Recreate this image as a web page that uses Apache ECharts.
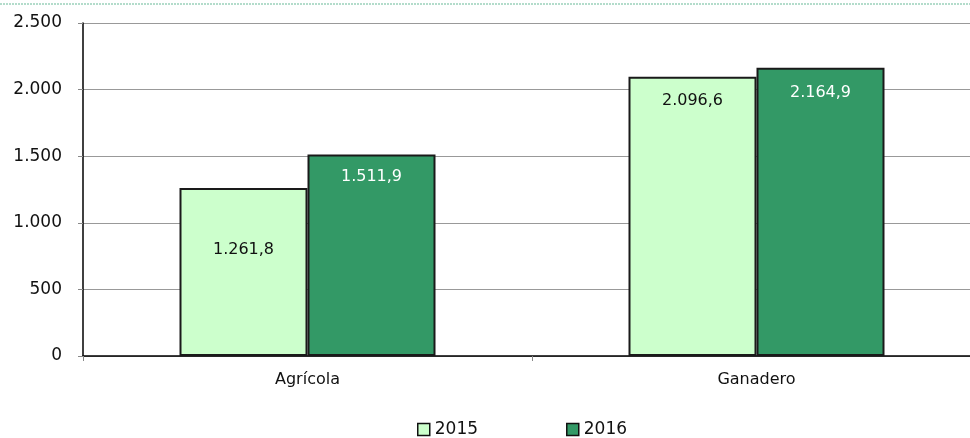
<!DOCTYPE html>
<html>
<head>
<meta charset="utf-8">
<script src="https://cdn.jsdelivr.net/npm/echarts@6/dist/echarts.min.js"></script>
<style>
  html, body { margin: 0; padding: 0; background: #fff; }
  #chart { width: 970px; height: 438px; }
</style>
</head>
<body>
<div id="chart"></div>
<script>
// datos
var categorias = ['Agrícola', 'Ganadero'];
var serie2015 = [1261.8, 2096.6];
var serie2016 = [1511.9, 2164.9];
var anios = ['2015', '2016'];

function fmt(v) {
    var s = v.toFixed(1).split('.');
    var ent = s[0].replace(/\B(?=(\d{3})+(?!\d))/g, '.');
    return ent + ',' + s[1];
}

var fuente = 'DejaVu Sans';
// distancia de cada etiqueta al borde superior de su barra
var dist2015 = [54, 16];
var dist2016 = [14, 17];

var myChart = echarts.init(document.getElementById('chart'));
myChart.setOption({
    animation: false,
    textStyle: { fontFamily: fuente },
    grid: { left: 83, width: 898, top: 23, height: 333, containLabel: false, outerBoundsMode: 'none' },
    graphic: [{
        type: 'line',
        shape: { x1: 0, y1: 4, x2: 970, y2: 4 },
        style: { stroke: '#b3dccb', lineWidth: 2, lineDash: [2, 1] }
    }],
    legend: {
        top: 416,
        left: 412,
        itemGap: 88,
        itemWidth: 12,
        itemHeight: 12,
        icon: 'rect',
        itemStyle: { borderColor: '#111', borderWidth: 1.5 },
        textStyle: { fontFamily: fuente, fontSize: 17, color: '#111' },
        data: anios
    },
    xAxis: {
        type: 'category',
        data: categorias,
        axisLine: { lineStyle: { color: '#000', width: 1.5 } },
        axisTick: { show: true, length: 5, lineStyle: { color: '#888' } },
        axisLabel: { fontFamily: fuente, fontSize: 16, color: '#111', margin: 16 }
    },
    yAxis: {
        type: 'value',
        min: 0,
        max: 2500,
        interval: 500,
        axisLine: { show: true, lineStyle: { color: '#000', width: 1.5 } },
        axisTick: { show: true, length: 5, lineStyle: { color: '#888' } },
        splitLine: { lineStyle: { color: '#999', width: 1 } },
        axisLabel: {
            fontFamily: fuente, fontSize: 17, color: '#111', margin: 21,
            formatter: function (v) { return v === 0 ? '0' : fmt(v).replace(/,0$/, ''); }
        }
    },
    series: [{
        name: anios[0],
        type: 'bar',
        barWidth: 128,
        barGap: '0%',
        itemStyle: { color: '#ccffcc', borderColor: '#1a1a1a', borderWidth: 2 },
        label: {
            show: true, position: 'insideTop',
            fontFamily: fuente, fontSize: 16, color: '#111',
            formatter: function (p) { return fmt(p.value); }
        },
        data: serie2015.map(function (v, i) {
            return { value: v, label: { distance: dist2015[i] } };
        })
    }, {
        name: anios[1],
        type: 'bar',
        barWidth: 128,
        barGap: '0%',
        itemStyle: { color: '#339966', borderColor: '#1a1a1a', borderWidth: 2 },
        label: {
            show: true, position: 'insideTop',
            fontFamily: fuente, fontSize: 16, color: '#fff',
            formatter: function (p) { return fmt(p.value); }
        },
        data: serie2016.map(function (v, i) {
            return { value: v, label: { distance: dist2016[i] } };
        })
    }]
});
</script>
</body>
</html>
